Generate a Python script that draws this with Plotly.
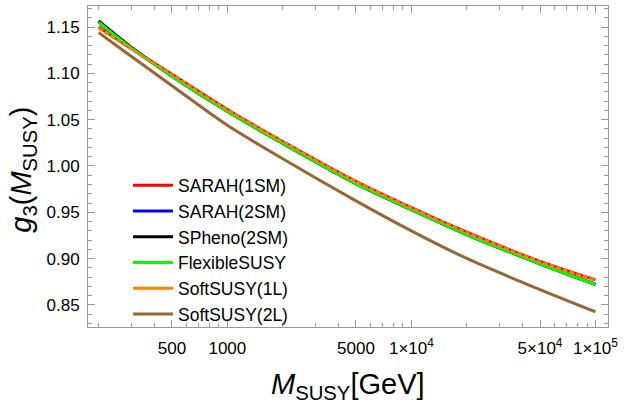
import plotly.graph_objects as go
import math

# ---- data ----
mass = [200, 300, 500, 1000, 2000, 5000, 10000, 20000, 50000, 100000]

sarah_1sm   = [1.1500, 1.1270, 1.0990, 1.0610, 1.0265, 0.9835, 0.9550, 0.9285, 0.8970, 0.8770]
sarah_2sm   = [1.1550, 1.1275, 1.0970, 1.0590, 1.0245, 0.9810, 0.9530, 0.9260, 0.8945, 0.8722]
spheno_2sm  = [1.1565, 1.1283, 1.0972, 1.0590, 1.0245, 0.9810, 0.9530, 0.9260, 0.8945, 0.8722]
flexiblesusy= [1.1550, 1.1275, 1.0970, 1.0590, 1.0245, 0.9810, 0.9530, 0.9260, 0.8945, 0.8722]
softsusy_1l = [1.1490, 1.1265, 1.0985, 1.0605, 1.0260, 0.9830, 0.9545, 0.9280, 0.8965, 0.8765]
softsusy_2l = [1.1440, 1.1185, 1.0867, 1.0440, 1.0078, 0.9624, 0.9300, 0.9002, 0.8665, 0.8425]

x_major = [500, 1000, 5000, 10000, 50000, 100000]
x_major_text = ["500", "1000", "5000", "1\u00d710<sup>4</sup>", "5\u00d710<sup>4</sup>", "1\u00d710<sup>5</sup>"]
x_minor = [200, 300, 400, 600, 700, 800, 900, 2000, 3000, 4000, 6000, 7000, 8000, 9000,
           20000, 30000, 40000, 60000, 70000, 80000, 90000]
y_major = [0.85, 0.90, 0.95, 1.00, 1.05, 1.10, 1.15]

series = [
    ("SARAH(1SM)", sarah_1sm, "#ff0000", None),
    ("SARAH(2SM)", sarah_2sm, "#0000ff", None),
    ("SPheno(2SM)", spheno_2sm, "#000000", None),
    ("FlexibleSUSY", flexiblesusy, "#00ff00", None),
    ("SoftSUSY(1L)", softsusy_1l, "#ff7f00", "5px,2px"),
    ("SoftSUSY(2L)", softsusy_2l, "#996633", None),
]

fig = go.Figure()
for i, (name, vals, col, dash) in enumerate(series):
    line = dict(color=col, width=3, shape="spline", smoothing=0.8)
    if dash:
        line["dash"] = dash
        # legend entry drawn solid as in the reference
        fig.add_trace(go.Scatter(x=[None], y=[None], mode="lines", name=name,
                                 line=dict(color=col, width=3), legendrank=i + 1))
        fig.add_trace(go.Scatter(x=mass, y=vals, mode="lines", name=name, line=line,
                                 showlegend=False))
    else:
        fig.add_trace(go.Scatter(x=mass, y=vals, mode="lines", name=name, line=line,
                                 legendrank=i + 1))

frame = "#999999"
font = "Liberation Sans, Arial, sans-serif"

fig.update_layout(
    width=625, height=403,
    margin=dict(l=88, r=17, t=6, b=76),
    paper_bgcolor="white", plot_bgcolor="white",
    font=dict(family=font, size=17, color="#000000"),
    showlegend=True,
    legend=dict(x=0.077, y=0.497, xanchor="left", yanchor="top",
                bgcolor="rgba(0,0,0,0)", font=dict(size=17.5, family=font),
                traceorder="normal", itemwidth=40),
    xaxis=dict(type="log", range=[math.log10(175), math.log10(117000)],
               showgrid=False, zeroline=False,
               showline=True, linecolor=frame, linewidth=1, mirror="ticks",
               ticks="inside", ticklen=7, tickcolor=frame, tickwidth=1,
               tickmode="array", tickvals=x_major, ticktext=x_major_text,
               tickfont=dict(size=17), ticklabelstandoff=6,
               minor=dict(tickmode="array", tickvals=x_minor, ticks="inside",
                          ticklen=4, tickcolor=frame, showgrid=False)),
    yaxis=dict(range=[0.8262, 1.1727],
               showgrid=False, zeroline=False,
               showline=True, linecolor=frame, linewidth=1, mirror="ticks",
               ticks="inside", ticklen=7, tickcolor=frame, tickwidth=1,
               tickmode="array", tickvals=y_major, tickformat=".2f",
               tickfont=dict(size=17), ticklabelstandoff=4,
               minor=dict(dtick=0.01, ticks="inside", ticklen=4, tickcolor=frame,
                          showgrid=False)),
    annotations=[
        dict(text="<i>M</i><sub>SUSY</sub>[GeV]", xref="paper", yref="paper",
             x=0.5, y=-0.183, xanchor="center", yanchor="middle", showarrow=False,
             font=dict(size=29, family=font, color="#000000")),
        dict(text="<i>g</i><sub>3</sub>(<i>M</i><sub>SUSY</sub>)", xref="paper", yref="paper",
             x=-0.125, y=0.49, xanchor="center", yanchor="middle", showarrow=False,
             textangle=-90, font=dict(size=29, family=font, color="#000000")),
    ],
)

fig.write_html("out.html")
